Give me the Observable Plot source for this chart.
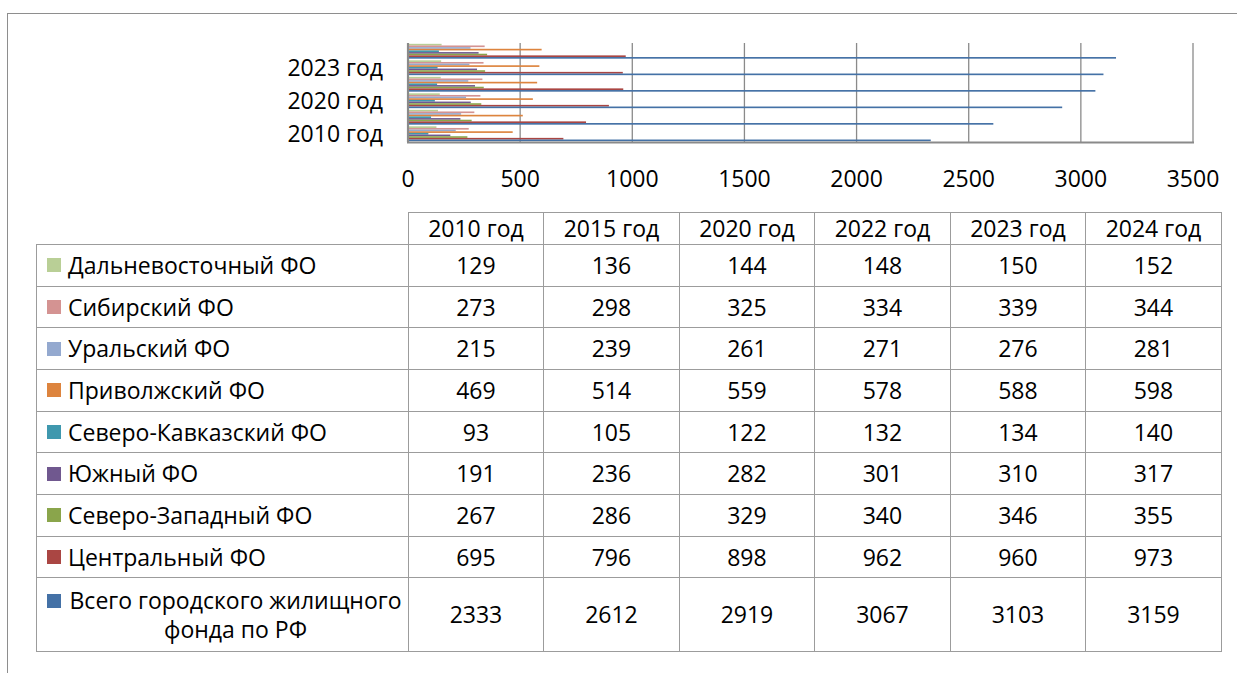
<!DOCTYPE html>
<html><head><meta charset="utf-8">
<script src="https://cdn.jsdelivr.net/npm/d3@7"></script>
<script src="https://cdn.jsdelivr.net/npm/@observablehq/plot@0.6"></script>
<style>
html,body{margin:0;padding:0;background:#fff;}
body{width:1237px;height:673px;overflow:hidden;position:relative;font-family:"Open Sans",sans-serif;color:#000;}
#border{position:absolute;left:7px;top:13px;width:1300px;height:700px;border-left:1.3px solid #8e8e8e;border-top:1.3px solid #8e8e8e;}
#chart{position:absolute;left:0;top:0;}
#tbl{position:absolute;left:36px;top:212px;border-collapse:collapse;table-layout:fixed;font-size:23px;font-family:"Open Sans",sans-serif;}
#tbl td{border:1.5px solid #9c9c9c;padding:0;text-align:center;vertical-align:middle;line-height:1.25;white-space:nowrap;}
#tbl td.empty{border:none;}
#tbl td.lab{text-align:left;}
.labwrap{display:flex;align-items:center;padding-left:10px;}
.key{display:inline-block;width:14px;height:14px;margin-right:7px;flex:none;}
.labwrap.multi{align-items:flex-start;}
.labwrap.multi .key{margin-top:8px;}
.labwrap.multi .txt{white-space:normal;text-align:center;width:335px;}
</style>
</head><body>
<div id="border"></div>
<div id="chart"></div>
<table id="tbl"></table>
<script>
// ---- data ----
const years = ["2010 год", "2015 год", "2020 год", "2022 год", "2023 год", "2024 год"];
const seriesNames = [
  "Дальневосточный ФО",
  "Сибирский ФО",
  "Уральский ФО",
  "Приволжский ФО",
  "Северо-Кавказский ФО",
  "Южный ФО",
  "Северо-Западный ФО",
  "Центральный ФО",
  "Всего городского жилищного фонда по РФ"
];
const seriesColors = ["#b9cf96", "#d49392", "#94a9cf", "#dd843e", "#3f98ae", "#70588f", "#8aa54b", "#aa4643", "#4471a6"];
const farEast      = [129, 136, 144, 148, 150, 152];
const siberia      = [273, 298, 325, 334, 339, 344];
const ural         = [215, 239, 261, 271, 276, 281];
const volga        = [469, 514, 559, 578, 588, 598];
const northCauc    = [93, 105, 122, 132, 134, 140];
const south        = [191, 236, 282, 301, 310, 317];
const northWest    = [267, 286, 329, 340, 346, 355];
const central      = [695, 796, 898, 962, 960, 973];
const totalRF      = [2333, 2612, 2919, 3067, 3103, 3159];
const xTicks = [0, 500, 1000, 1500, 2000, 2500, 3000, 3500];
const yTickLabels = ["2010 год", "2020 год", "2023 год"];

const valuesBySeries = [farEast, siberia, ural, volga, northCauc, south, northWest, central, totalRF];

// ---- build records ----
const records = [];
seriesNames.forEach((s, i) => years.forEach((y, j) => records.push({year: y, series: s, value: valuesBySeries[i][j]})));
const key = (y, s) => y + "|" + s;
const yDomain = [];
years.slice().reverse().forEach((y, j) => {
  if (j > 0) yDomain.push(y + "|gap");
  seriesNames.forEach(s => yDomain.push(key(y, s)));
});
const midSeries = seriesNames[4];

const chart = Plot.plot({
  width: 1237, height: 200,
  marginLeft: 407.5, marginRight: 44.5, marginTop: 43, marginBottom: 58,
  style: {fontFamily: '"Open Sans", sans-serif', fontSize: "23px", color: "#000", background: "transparent", overflow: "visible"},
  x: {domain: [0, 3500], ticks: xTicks, tickFormat: d => String(d), tickSize: 0, tickPadding: 28, label: null},
  y: {type: "band", domain: yDomain, paddingInner: 0, paddingOuter: 0.5, axis: null},
  color: {domain: seriesNames, range: seriesColors},
  marks: [
    Plot.ruleX(xTicks.slice(1), {stroke: "#8a8a8a", strokeWidth: 1.3}),
    Plot.barX(records, {x: "value", y: d => key(d.year, d.series), fill: "series"}),
    Plot.ruleX([0], {stroke: "#8a8a8a", strokeWidth: 2.2}),
    Plot.frame({anchor: "bottom", stroke: "#8a8a8a", strokeWidth: 2}),
    Plot.text(yTickLabels, {y: d => key(d, midSeries), frameAnchor: "left", textAnchor: "end", dx: -25, fill: "#000"})
  ]
});
document.getElementById("chart").appendChild(chart);

// ---- data table ----
const tbl = document.getElementById("tbl");
const colgroup = document.createElement("colgroup");
colgroup.innerHTML = '<col style="width:371.7px">' + years.map(() => '<col style="width:135.5px">').join("");
tbl.appendChild(colgroup);
const head = document.createElement("tr");
head.style.height = "32px";
head.innerHTML = '<td class="empty"></td>' + years.map(y => `<td>${y}</td>`).join("");
tbl.appendChild(head);
seriesNames.forEach((s, i) => {
  const tr = document.createElement("tr");
  const last = i === seriesNames.length - 1;
  tr.style.height = last ? "74px" : "41.67px";
  const lab = `<td class="lab"><div class="labwrap${last ? " multi" : ""}"><span class="key" style="background:${seriesColors[i]}"></span><span class="txt">${s}</span></div></td>`;
  tr.innerHTML = lab + valuesBySeries[i].map(v => `<td>${v}</td>`).join("");
  tbl.appendChild(tr);
});
</script>
</body></html>
